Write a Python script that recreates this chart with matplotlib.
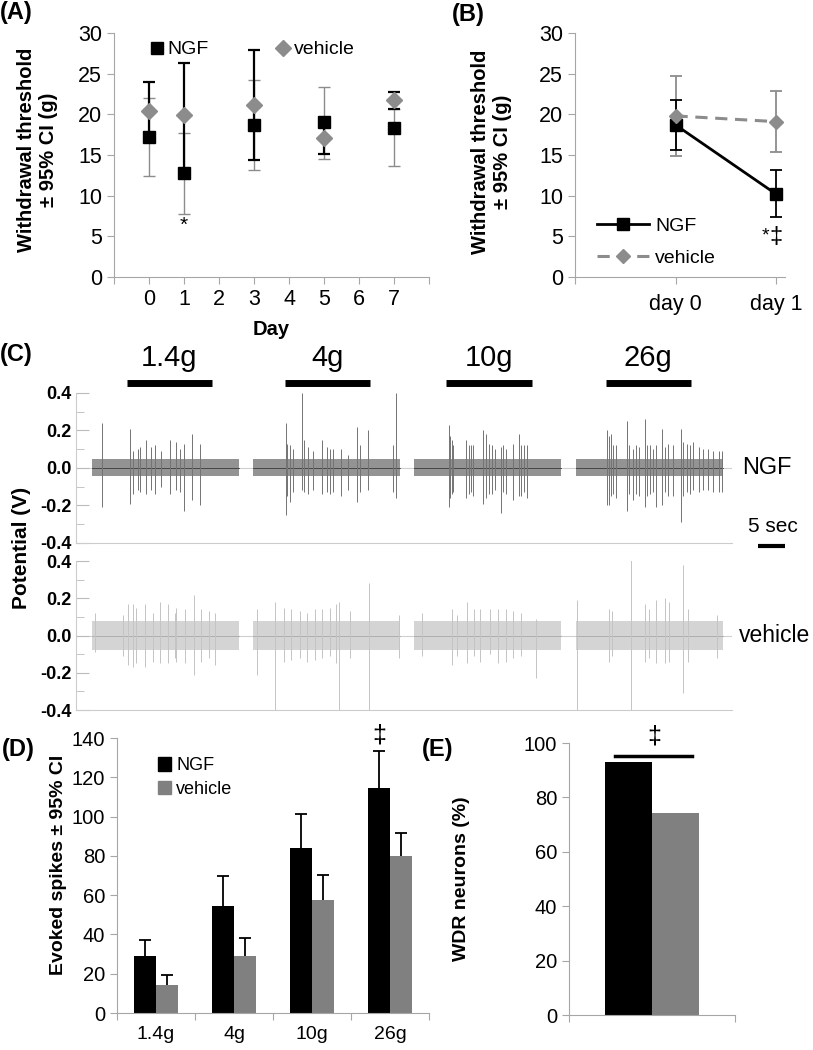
import numpy as np
import matplotlib
matplotlib.use('Agg')
import matplotlib.pyplot as plt
from matplotlib.patches import Patch
from matplotlib.ticker import FormatStrFormatter, MultipleLocator

plt.rcParams['font.family'] = ['Liberation Sans', 'DejaVu Sans']
plt.rcParams['axes.unicode_minus'] = False

# (A) withdrawal threshold over days
days = [0, 1, 3, 5, 7]
ngf_a = [17.2, 12.8, 18.7, 19.0, 18.3]
veh_a = [20.4, 19.9, 21.1, 17.1, 21.7]
ngf_a_lo = [17.2, 12.8, 14.4, 15.1, 20.6]
ngf_a_hi = [24.0, 26.3, 27.9, 19.0, 22.8]
veh_a_lo = [12.4, 7.7, 13.1, 14.5, 13.7]
veh_a_hi = [22.0, 17.7, 24.2, 23.3, 20.6]

# (B) day 0 vs day 1
b_labels = ['day 0', 'day 1']
ngf_b = [18.7, 10.2]
ngf_b_lo = [15.6, 7.4]
ngf_b_hi = [21.8, 13.1]
veh_b = [19.8, 19.1]
veh_b_lo = [14.9, 15.4]
veh_b_hi = [24.7, 22.9]

# (C) example recordings, time in s
block_start = [3.0, 32.8, 62.6, 92.6]
block_len = 27.2
stim_on = [9.4, 38.7, 68.5, 98.1]
stim_off = [25.2, 54.4, 84.4, 113.9]
stim_labels = ['1.4g', '4g', '10g', '26g']
ngf_band = 0.045
veh_band = 0.08
# spikes per block: (time from block start, top V, bottom V)
ngf_trace_spikes = [
    [(1.9, 0.24, -0.21), (7.0, 0.21, -0.19), (7.5, 0.09, -0.14), (8.5, 0.10, -0.12),
     (8.9, 0.11, -0.13), (10.0, 0.15, -0.14), (10.9, 0.11, -0.12), (11.7, 0.12, -0.14),
     (12.8, 0.09, -0.10), (14.4, 0.15, -0.14), (15.6, 0.14, -0.12), (16.3, 0.10, -0.13),
     (17.0, 0.13, -0.23), (18.4, 0.18, -0.17), (19.9, 0.13, -0.20)],
    [(6.0, 0.24, -0.25), (6.3, 0.13, -0.15), (6.8, 0.12, -0.18), (7.4, 0.10, -0.13),
     (9.1, 0.40, -0.12), (9.4, 0.15, -0.13), (10.2, 0.11, -0.14), (11.1, 0.09, -0.12),
     (12.8, 0.15, -0.14), (13.6, 0.11, -0.13), (14.2, 0.10, -0.14), (14.8, 0.10, -0.13),
     (16.2, 0.10, -0.15), (17.6, 0.07, -0.12), (19.3, 0.22, -0.18), (19.8, 0.12, -0.13),
     (21.2, 0.20, -0.12), (25.9, 0.12, -0.13), (26.4, 0.40, -0.16)],
    [(6.4, 0.23, -0.21), (6.7, 0.17, -0.16), (7.0, 0.15, -0.14), (7.3, 0.12, -0.13),
     (9.6, 0.15, -0.16), (10.1, 0.12, -0.14), (10.5, 0.12, -0.13), (11.0, 0.12, -0.15),
     (12.8, 0.20, -0.19), (13.3, 0.18, -0.16), (13.8, 0.13, -0.14), (14.4, 0.12, -0.14),
     (15.0, 0.10, -0.12), (16.2, 0.11, -0.24), (16.5, 0.12, -0.13), (17.0, 0.10, -0.14),
     (18.4, 0.13, -0.17), (19.5, 0.18, -0.15), (19.9, 0.12, -0.15), (20.4, 0.12, -0.13),
     (20.9, 0.12, -0.16)],
    [(5.8, 0.20, -0.20), (6.1, 0.17, -0.20), (6.4, 0.18, -0.15), (6.9, 0.12, -0.14),
     (7.5, 0.12, -0.16), (9.4, 0.25, -0.23), (9.9, 0.12, -0.14), (10.6, 0.10, -0.17),
     (11.2, 0.12, -0.14), (11.6, 0.11, -0.15), (12.8, 0.26, -0.21), (13.2, 0.12, -0.15),
     (13.7, 0.12, -0.14), (14.3, 0.10, -0.13), (14.9, 0.12, -0.21), (15.9, 0.21, -0.20),
     (16.5, 0.11, -0.13), (17.1, 0.13, -0.15), (18.0, 0.12, -0.15), (19.4, 0.21, -0.29),
     (19.9, 0.14, -0.15), (20.5, 0.13, -0.13), (21.1, 0.12, -0.14), (21.7, 0.14, -0.12),
     (22.7, 0.11, -0.13), (23.6, 0.10, -0.12), (24.5, 0.10, -0.12), (25.4, 0.09, -0.13),
     (26.4, 0.09, -0.13), (27.0, 0.09, -0.13)],
]
veh_trace_spikes = [
    [(0.5, 0.12, -0.09), (5.7, 0.11, -0.11), (6.7, 0.17, -0.16), (7.5, 0.17, -0.17),
     (8.2, 0.15, -0.15), (9.8, 0.17, -0.17), (11.3, 0.12, -0.14), (12.6, 0.18, -0.15),
     (14.1, 0.17, -0.15), (15.3, 0.12, -0.12), (15.6, 0.15, -0.14), (17.2, 0.14, -0.15),
     (18.8, 0.22, -0.21), (20.2, 0.14, -0.14), (21.6, 0.13, -0.12), (22.7, 0.12, -0.16)],
    [(0.7, 0.14, -0.21), (4.0, 0.18, -0.42), (5.7, 0.15, -0.14), (7.1, 0.14, -0.13),
     (8.6, 0.13, -0.12), (9.9, 0.12, -0.14), (11.4, 0.14, -0.13), (12.7, 0.14, -0.12),
     (14.2, 0.15, -0.11), (15.4, 0.17, -0.15), (15.9, 0.18, -0.42), (17.9, 0.13, -0.12),
     (21.4, 0.28, -0.42), (27.0, 0.11, -0.12)],
    [(1.5, 0.12, -0.11), (7.1, 0.14, -0.16), (8.0, 0.11, -0.11), (9.9, 0.18, -0.15),
     (11.2, 0.14, -0.11), (12.3, 0.14, -0.14), (14.1, 0.14, -0.10), (15.6, 0.14, -0.15),
     (17.0, 0.14, -0.14), (18.3, 0.13, -0.12), (19.8, 0.12, -0.11), (22.6, 0.09, -0.23)],
    [(0.1, 0.19, -0.42), (6.2, 0.14, -0.14), (6.6, 0.13, -0.11), (10.1, 0.41, -0.42),
     (12.7, 0.17, -0.14), (13.6, 0.14, -0.12), (14.8, 0.19, -0.15), (16.4, 0.20, -0.15),
     (17.3, 0.18, -0.14), (19.8, 0.38, -0.31), (20.7, 0.14, -0.14), (26.2, 0.11, -0.12)],
]

# (D) evoked spikes
forces = ['1.4g', '4g', '10g', '26g']
ngf_d = [29.2, 54.5, 84.0, 114.6]
ngf_d_hi = [37.4, 69.6, 101.5, 133.3]
veh_d = [14.1, 28.9, 57.7, 80.1]
veh_d_hi = [19.5, 38.0, 70.3, 91.7]

# (E) WDR neurons
wdr = [93.0, 74.3]

GRAY = '#8c8c8c'
BARGRAY = '#808080'
SPINE = '#a6a6a6'


def style(ax, size=15.5):
    for s in ['top', 'right']:
        ax.spines[s].set_visible(False)
    for s in ['left', 'bottom']:
        ax.spines[s].set_color(SPINE)
    ax.tick_params(colors=SPINE, labelcolor='black', labelsize=size, length=5)


def ci(ax, x, lo, hi, color, lw, cap=8):
    ax.vlines(x, lo, hi, color=color, lw=lw)
    ax.plot(x, lo, '_', color=color, ms=cap, mew=lw, ls='none')
    ax.plot(x, hi, '_', color=color, ms=cap, mew=lw, ls='none')


fig = plt.figure(figsize=(8.13, 10.5), dpi=100)

# ---- A
axA = fig.add_axes([0.1402, 0.7362, 0.3875, 0.2324])
style(axA)
ci(axA, days, veh_a_lo, veh_a_hi, GRAY, 1.0)
ci(axA, days, ngf_a_lo, ngf_a_hi, 'black', 1.6)
axA.plot(days, ngf_a, 's', color='black', ms=9, ls='none', label='NGF', zorder=4)
axA.plot(days, veh_a, 'D', color=GRAY, ms=8, ls='none', label='vehicle', zorder=3)
axA.text(1, 6.3, '*', ha='center', va='center', fontsize=15)
axA.set_xlim(-1, 8)
axA.set_xticks(range(-1, 9))
axA.set_xticklabels([''] + [str(i) for i in range(8)] + [''])
axA.set_ylim(0, 30)
axA.set_yticks(range(0, 31, 5))
axA.set_xlabel('Day', fontweight='bold', fontsize=14.5, labelpad=7)
axA.set_ylabel('Withdrawal threshold\n\u00b1 95% CI (g)', fontweight='bold', fontsize=14.5)
axA.yaxis.set_label_coords(-0.178, 0.52)
axA.legend(loc='upper left', bbox_to_anchor=(0.05, 1.04), ncol=2, frameon=False,
           fontsize=14, handletextpad=0.05, columnspacing=3.3, handlelength=1)

# ---- B
axB = fig.add_axes([0.7073, 0.7362, 0.2583, 0.2324])
style(axB)
xb = [0, 1]
ci(axB, xb, veh_b_lo, veh_b_hi, GRAY, 1.3)
ci(axB, xb, ngf_b_lo, ngf_b_hi, 'black', 1.3)
axB.plot(xb, ngf_b, '-s', color='black', lw=2, ms=9, label='NGF', zorder=3)
axB.plot(xb, veh_b, '--D', color=GRAY, lw=2.2, ms=7, dashes=(4, 2.5), label='vehicle', zorder=4)
axB.text(0.9, 5.0, '*', ha='center', va='center', fontsize=14)
axB.text(1.0, 4.9, '\u2021', ha='center', va='center', fontsize=17)
axB.set_xlim(-1, 1.09)
axB.set_xticks([-1, 0, 1])
axB.set_xticklabels([''] + b_labels)
axB.tick_params(axis='x', pad=7)
axB.set_ylim(0, 30)
axB.set_yticks(range(0, 31, 5))
axB.set_ylabel('Withdrawal threshold\n\u00b1 95% CI (g)', fontweight='bold', fontsize=14.5)
axB.yaxis.set_label_coords(-0.30, 0.515)
axB.legend(loc='lower left', bbox_to_anchor=(0.02, -0.03), frameon=False, fontsize=14,
           handlelength=2.7, handletextpad=0.3, labelspacing=0.75)

# ---- C
def trace(ax, spikes, band, fill, spike_col, mid):
    ax.axhline(0, color='#cfcfcf', lw=0.8, zorder=0)
    for s, blk in zip(block_start, spikes):
        ax.fill_between([s, s + block_len], -band, band, color=fill, lw=0)
        ax.plot([s, s + block_len], [0, 0], color=mid, lw=0.6)
        t = [s + p[0] for p in blk]
        ax.vlines(t, [p[2] for p in blk], [p[1] for p in blk], color=spike_col, lw=0.7)
    ax.set_xlim(0, 121.5)
    ax.set_ylim(-0.4, 0.4)
    ax.set_xticks([])
    for sp in ['top', 'right']:
        ax.spines[sp].set_visible(False)
    for sp in ['left', 'bottom']:
        ax.spines[sp].set_color('#cccccc')
    ax.yaxis.set_major_locator(MultipleLocator(0.2))
    ax.yaxis.set_minor_locator(MultipleLocator(0.1))
    ax.yaxis.set_major_formatter(FormatStrFormatter('%.1f'))
    ax.tick_params(axis='y', which='both', direction='in', colors='#bbbbbb', labelcolor='black',
                   labelsize=13, pad=3)
    ax.tick_params(axis='y', which='major', length=9)
    ax.tick_params(axis='y', which='minor', length=6)
    for lab in ax.get_yticklabels():
        lab.set_fontweight('bold')


axC1 = fig.add_axes([0.0935, 0.4829, 0.8069, 0.1429])
trace(axC1, ngf_trace_spikes, ngf_band, '#939393', '#737373', '#3a3a3a')
axC2 = fig.add_axes([0.0935, 0.3238, 0.8069, 0.1419])
trace(axC2, veh_trace_spikes, veh_band, '#d4d4d4', '#c4c4c4', '#a8a8a8')

for a, b, lab in zip(stim_on, stim_off, stim_labels):
    axC1.plot([a, b], [0.453, 0.453], color='black', lw=5, solid_capstyle='butt', clip_on=False)
    axC1.text((a + b) / 2, 0.544, lab, ha='center', va='baseline', fontsize=21)
axC1.text(123.3, 0, 'NGF', va='center', fontsize=17, clip_on=False)
axC2.text(122.8, 0, 'vehicle', va='center', fontsize=16.5, clip_on=False)
axC1.plot([126.3, 131.3], [-0.416, -0.416], color='black', lw=3, solid_capstyle='butt', clip_on=False)
axC1.text(129.1, -0.31, '5 sec', ha='center', va='center', fontsize=15)
fig.text(0.027, 0.478, 'Potential (V)', rotation=90, ha='center', va='center',
         fontsize=15, fontweight='bold')

# ---- D
def up_err(ax, x, hi, base):
    ax.vlines(x, base, hi, color='black', lw=1.3)
    ax.plot(x, hi, '_', color='black', ms=9, mew=1.3, ls='none')


axD = fig.add_axes([0.1439, 0.0352, 0.3838, 0.2619])
style(axD, 14.5)
xd = np.arange(len(forces)) + 0.5
w = 0.28
axD.bar(xd - 0.143, ngf_d, w, color='black', label='NGF')
axD.bar(xd + 0.143, veh_d, w, color=BARGRAY, label='vehicle')
up_err(axD, xd - 0.143, ngf_d_hi, ngf_d)
up_err(axD, xd + 0.143, veh_d_hi, veh_d)
axD.text(xd[3] - 0.143, 141.5, '\u2021', ha='center', va='center', fontsize=18, clip_on=False)
axD.set_xlim(0, 4)
axD.set_xticks(range(5))
axD.set_xticklabels([])
axD.set_xticks(xd, minor=True)
axD.set_xticklabels(forces, minor=True)
axD.tick_params(axis='x', which='minor', length=0, labelsize=14, pad=9)
axD.set_ylim(0, 140)
axD.set_yticks(range(0, 141, 20))
axD.set_ylabel('Evoked spikes \u00b1 95% CI', fontweight='bold', fontsize=14)
axD.yaxis.set_label_coords(-0.16, 0.54)
axD.legend(handles=[Patch(color='black', label='NGF'), Patch(color=BARGRAY, label='vehicle')],
           loc='upper left', bbox_to_anchor=(0.08, 0.99), frameon=False, fontsize=13,
           handlelength=0.7, handleheight=0.8, handletextpad=0.3, labelspacing=0.35)

# ---- E
axE = fig.add_axes([0.6999, 0.0333, 0.2042, 0.2590])
style(axE, 14.5)
axE.bar([0.357, 0.643], wdr, 0.285, color=['black', BARGRAY])
axE.plot([0.277, 0.741], [95.1, 95.1], color='black', lw=2.5, clip_on=False)
axE.text(0.512, 102.5, '\u2021', ha='center', va='center', fontsize=18, clip_on=False)
axE.set_xlim(0, 1)
axE.set_xticks([0, 1])
axE.set_xticklabels([])
axE.set_ylim(0, 100)
axE.set_yticks(range(0, 101, 20))
axE.set_ylabel('WDR neurons (%)', fontweight='bold', fontsize=14)
axE.yaxis.set_label_coords(-0.596, 0.50)

# panel letters
for x, y, lab in [(0.0, 0.988, '(A)'), (0.556, 0.986, '(B)'), (0.0, 0.662, '(C)'),
                  (0.002, 0.286, '(D)'), (0.519, 0.286, '(E)')]:
    fig.text(x, y, lab, fontsize=17, fontweight='bold', va='center')

fig.savefig('out.png', dpi=100)
